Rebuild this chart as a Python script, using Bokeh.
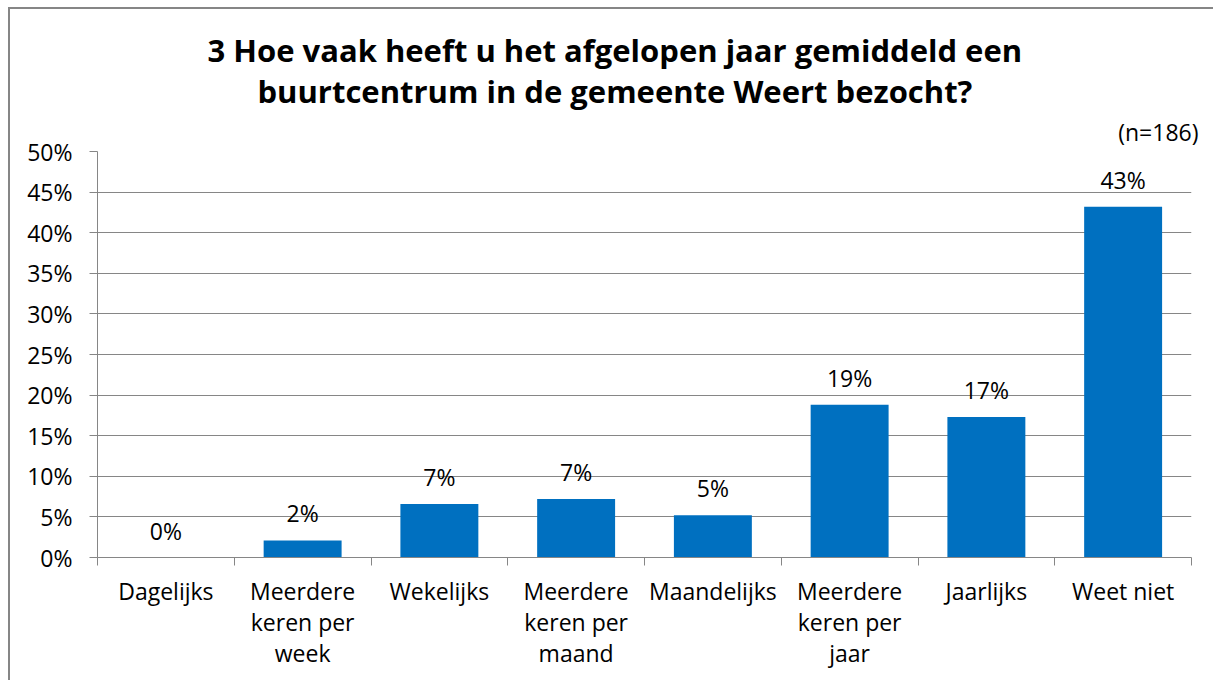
from bokeh.plotting import figure
from bokeh.models import Title, FixedTicker, Range1d, ColumnDataSource, CustomJSTickFormatter
from bokeh.core.properties import value
from bokeh.embed import file_html
from bokeh.resources import INLINE

categories = ["Dagelijks", "Meerdere\nkeren per\nweek", "Wekelijks", "Meerdere\nkeren per\nmaand",
              "Maandelijks", "Meerdere\nkeren per\njaar", "Jaarlijks", "Weet niet"]
values = [0.0, 2.1, 6.6, 7.2, 5.2, 18.8, 17.3, 43.2]
value_labels = ["0%", "2%", "7%", "7%", "5%", "19%", "17%", "43%"]
y_ticks = [0, 5, 10, 15, 20, 25, 30, 35, 40, 45, 50]
title_lines = ["3 Hoe vaak heeft u het afgelopen jaar gemiddeld een",
               "buurtcentrum in de gemeente Weert bezocht?"]
n_label = "(n=186)"

FONT = "Open Sans"
GRAY = "#868686"

xs = [i + 0.5 for i in range(len(categories))]
src = ColumnDataSource(dict(x=xs, top=values, lab=value_labels))

p = figure(width=1205, height=673, output_backend="svg", toolbar_location=None, title_location=None,
           x_range=Range1d(0, len(categories)), y_range=Range1d(0, 50),
           min_border_left=87, min_border_right=24, min_border_top=0, min_border_bottom=125)
p.styles = {"border-top": "2px solid #868686", "border-left": "2px solid #868686",
            "margin-left": "8px", "margin-top": "7px"}
p.outline_line_color = None
p.background_fill_color = "white"
p.border_fill_color = "white"

p.vbar(x="x", top="top", bottom=0, width=0.57, source=src, fill_color="#0070C0", line_color=None)
p.text(x="x", y="top", text="lab", source=src, text_align="center", text_baseline="alphabetic",
       y_offset=-27, text_font=value(FONT), text_font_size="23px", text_color="black")

# x axis
xa = p.xaxis[0]
xa.ticker = FixedTicker(ticks=xs, minor_ticks=list(range(len(categories) + 1)))
xa.major_label_overrides = {x: c for x, c in zip(xs, categories)}
xa.major_tick_out = 0
xa.major_tick_in = 0
xa.minor_tick_out = 8
xa.minor_tick_in = 0
xa.minor_tick_line_color = GRAY
xa.axis_line_color = GRAY
xa.major_label_standoff = 9
xa.major_label_text_font = FONT
xa.major_label_text_font_size = "23px"
xa.major_label_text_color = "black"
xa.major_label_text_line_height = 0.98

ya = p.yaxis[0]
ya.ticker = FixedTicker(ticks=y_ticks)
ya.formatter = CustomJSTickFormatter(code="return tick + '%';")
ya.minor_tick_line_color = None
ya.major_tick_out = 8
ya.major_tick_in = 0
ya.major_tick_line_color = GRAY
ya.axis_line_color = GRAY
ya.major_label_standoff = 17
ya.major_label_text_font = FONT
ya.major_label_text_font_size = "23px"
ya.major_label_text_color = "black"

p.xgrid.visible = False
p.ygrid.ticker = FixedTicker(ticks=y_ticks)
p.ygrid.grid_line_color = GRAY
p.ygrid.grid_line_width = 1

p.add_layout(Title(text=n_label, align="right", offset=-7, standoff=8,
                   text_font=FONT, text_font_size="23px", text_font_style="normal", text_color="black"), "above")
p.add_layout(Title(text=title_lines[1], align="left", offset=160, standoff=-5,
                   text_font=FONT, text_font_size="31px", text_font_style="bold", text_color="black"), "above")
p.add_layout(Title(text=title_lines[0], align="left", offset=110, standoff=0,
                   text_font=FONT, text_font_size="31px", text_font_style="bold", text_color="black"), "above")
p.add_layout(Title(text=" ", align="left", standoff=0, text_font=FONT, text_font_size="11px"), "above")

open("out.html", "w").write(file_html(p, INLINE))
